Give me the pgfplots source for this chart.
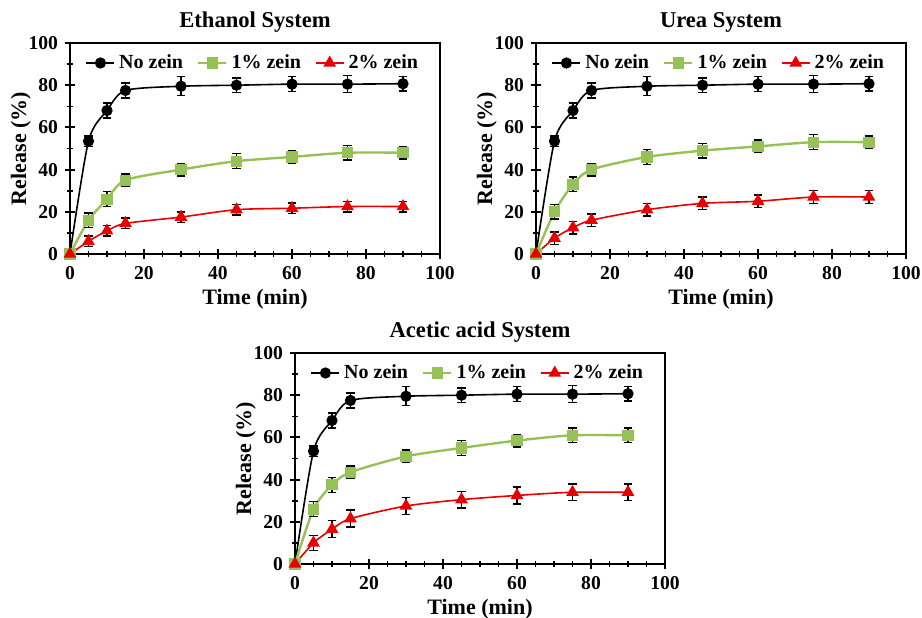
\documentclass[border=0pt]{standalone}
\usepackage{pgfplots}
\pgfplotsset{compat=1.18}
\usepackage{fontspec}
\setmainfont{Liberation Serif}
\definecolor{zgreen}{RGB}{150,193,88}
\definecolor{zred}{RGB}{232,0,0}

\pgfplotsset{
  relstyle/.style={
    width=185pt, height=105.5pt, scale only axis,
    xmin=0, xmax=100, ymin=0, ymax=100,
    xtick={0,20,...,100}, ytick={0,20,...,100},
    minor x tick num=3, minor y tick num=1,
    axis line style={line width=1pt},
    major tick style={line width=1pt, black},
    minor tick style={line width=0.8pt, black},
    major tick length=5pt, minor tick length=3pt,
    tick align=center,
    xtick pos=left, ytick pos=left,
    tick label style={font=\fontsize{9.8}{10}\selectfont\bfseries},
    /pgf/number format/assume math mode=true,
    label style={font=\fontsize{11}{12}\selectfont\bfseries},
    title style={font=\fontsize{11.3}{12}\selectfont\bfseries, yshift=-4pt},
    xlabel={Time (min)}, ylabel={Release (\%)},
    xlabel style={yshift=2pt}, ylabel style={yshift=-8pt},
    legend columns=3,
    legend style={at={(0.025,0.985)}, anchor=north west, draw=none, fill=none,
      font=\fontsize{10}{11}\selectfont\bfseries,
      /tikz/every even column/.append style={column sep=5pt}},
    legend image code/.code={\draw[mark repeat=2, mark phase=2, #1]
      plot coordinates {(0pt,0pt) (7pt,0pt) (14pt,0pt)};},
    every axis plot/.append style={line width=0.8pt, smooth, tension=0.45,
      mark size=2.4pt, error bars/y dir=both, error bars/y explicit,
      error bars/error bar style={line width=0.7pt, black},
      error bars/error mark options={rotate=90, mark size=2.2pt, line width=0.7pt, black}},
  },
  nozein/.style={black, mark=*, mark options={fill=black}},
  onezein/.style={zgreen, line width=1.2pt, mark=square*, mark options={fill=zgreen, line width=0.8pt}},
  twozein/.style={zred, mark=triangle*, mark options={fill=zred}, mark size=2.9pt},
}

\begin{document}
\begin{tikzpicture}
\useasboundingbox (0,0) rectangle (461pt,308.5pt);

% Ethanol
\begin{axis}[relstyle, at={(35pt,181.5pt)}, anchor=south west, title={Ethanol System}]
\addplot[nozein] coordinates {(0,0) +- (0,0) (5,53.5) +- (0,2.5) (10,68) +- (0,3.5) (15,77.5) +- (0,3.5) (30,79.5) +- (0,4.5) (45,80) +- (0,3.5) (60,80.5) +- (0,3.5) (75,80.5) +- (0,4) (90,80.7) +- (0,3.5)};
\addplot[onezein] coordinates {(0,0) +- (0,0) (5,16) +- (0,3.5) (10,26) +- (0,3.5) (15,35) +- (0,3) (30,40) +- (0,3) (45,44) +- (0,3.5) (60,46) +- (0,3) (75,48) +- (0,3.5) (90,48) +- (0,3)};
\addplot[twozein] coordinates {(0,0) +- (0,0) (5,6) +- (0,2.5) (10,11) +- (0,2.5) (15,14.5) +- (0,2.5) (30,17.5) +- (0,2.5) (45,21) +- (0,2.5) (60,21.7) +- (0,2.5) (75,22.5) +- (0,2.5) (90,22.5) +- (0,2.5)};
\legend{No zein, 1\% zein, 2\% zein}
\end{axis}

% Urea
\begin{axis}[relstyle, at={(268pt,181.5pt)}, anchor=south west, title={Urea System}]
\addplot[nozein] coordinates {(0,0) +- (0,0) (5,53.5) +- (0,2.5) (10,68) +- (0,3.5) (15,77.5) +- (0,3.5) (30,79.5) +- (0,4.5) (45,80) +- (0,3.5) (60,80.5) +- (0,3.5) (75,80.5) +- (0,4) (90,80.7) +- (0,3.5)};
\addplot[onezein] coordinates {(0,0) +- (0,0) (5,20) +- (0,3.5) (10,33) +- (0,3.5) (15,40) +- (0,3) (30,46) +- (0,3.5) (45,49) +- (0,3.5) (60,51) +- (0,3) (75,53) +- (0,3.5) (90,53) +- (0,3)};
\addplot[twozein] coordinates {(0,0) +- (0,0) (5,7.5) +- (0,3) (10,12.5) +- (0,3) (15,16) +- (0,3) (30,21) +- (0,3) (45,24) +- (0,3) (60,25) +- (0,3) (75,27) +- (0,3) (90,27) +- (0,3)};
\legend{No zein, 1\% zein, 2\% zein}
\end{axis}

% Acetic acid
\begin{axis}[relstyle, at={(147.5pt,26.5pt)}, anchor=south west, title={Acetic acid System}]
\addplot[nozein] coordinates {(0,0) +- (0,0) (5,53.5) +- (0,2.5) (10,68) +- (0,3.5) (15,77.5) +- (0,3.5) (30,79.5) +- (0,4.5) (45,80) +- (0,3.5) (60,80.5) +- (0,3.5) (75,80.5) +- (0,4) (90,80.7) +- (0,3.5)};
\addplot[onezein] coordinates {(0,0) +- (0,0) (5,26) +- (0,3.5) (10,37.5) +- (0,3.5) (15,43.5) +- (0,3) (30,51) +- (0,3) (45,55) +- (0,3.5) (60,58.5) +- (0,3) (75,61) +- (0,3.5) (90,61) +- (0,3.5)};
\addplot[twozein] coordinates {(0,0) +- (0,0) (5,10) +- (0,3.5) (10,16.5) +- (0,4) (15,21.5) +- (0,4) (30,27.5) +- (0,4) (45,30.5) +- (0,4) (60,32.5) +- (0,4) (75,34) +- (0,4) (90,34) +- (0,4)};
\legend{No zein, 1\% zein, 2\% zein}
\end{axis}
\end{tikzpicture}
\end{document}
